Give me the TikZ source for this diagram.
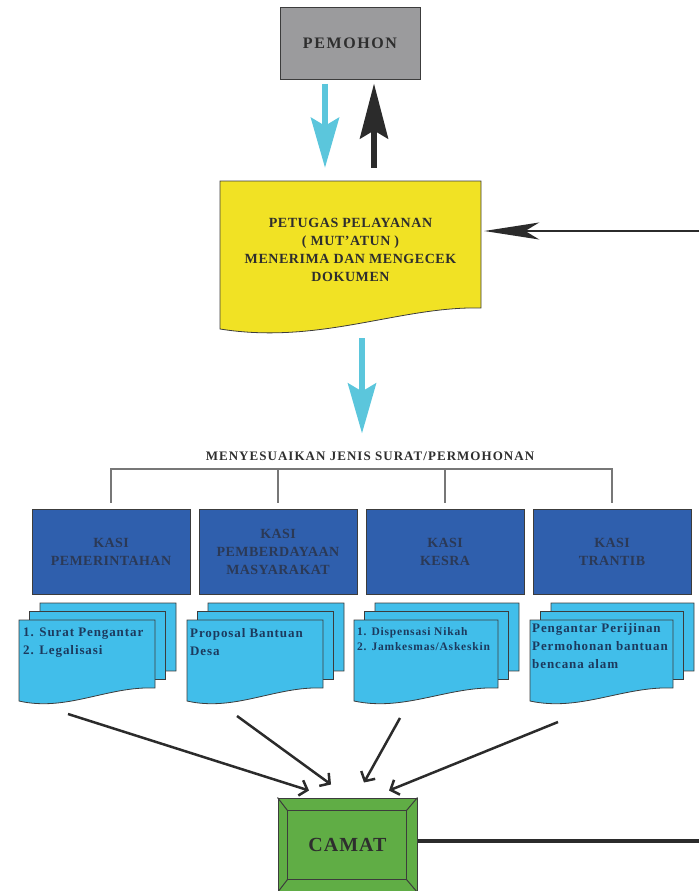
\documentclass[tikz,border=0pt]{standalone}
\usepackage{fontspec}
\setmainfont{Liberation Serif}
\usepackage{tikz}
\usetikzlibrary{positioning,arrows.meta}

\definecolor{abu}{HTML}{9B9B9D}
\definecolor{garis}{HTML}{3C3C3C}
\definecolor{teksgelap}{HTML}{2E2E2E}
\definecolor{kuning}{HTML}{F1E224}
\definecolor{cyanpanah}{HTML}{5BC6DC}
\definecolor{hitam}{HTML}{2B2B2B}
\definecolor{biru}{HTML}{2F5FAD}
\definecolor{teksbiru}{HTML}{2B3956}
\definecolor{birumuda}{HTML}{41BEEA}
\definecolor{teksisi}{HTML}{1C3A5E}
\definecolor{hijau}{HTML}{60AD45}
\definecolor{abugaris}{HTML}{777777}

\tikzstyle{kotak} = [rectangle, minimum width=140pt, minimum height=71pt, text centered, draw=garis, line width=1pt, fill=abu, text=teksgelap, font=\fontsize{16}{18}\selectfont\bfseries\addfontfeature{LetterSpace=10}]
\tikzstyle{kertas} = [draw=garis, line width=0.8pt]
\tikzstyle{judul} = [align=center, text=teksgelap, font=\fontsize{14}{18}\selectfont\bfseries\addfontfeature{LetterSpace=4}]
\tikzstyle{subjudul} = [inner sep=0pt, text=teksgelap, font=\fontsize{13}{16}\selectfont\bfseries\addfontfeature{LetterSpace=8}]
\tikzstyle{kasi} = [rectangle, minimum width=158pt, minimum height=85pt, align=center, draw=garis, line width=0.8pt, fill=biru, text=teksbiru, font=\fontsize{14}{18}\selectfont\bfseries\addfontfeature{LetterSpace=3}]
\tikzstyle{lembar} = [draw=garis, line width=0.8pt, fill=birumuda]
\tikzstyle{isi} = [inner sep=0pt, align=left, text=teksisi, font=\fontsize{13}{18}\selectfont\bfseries\addfontfeature{LetterSpace=7}]
\tikzstyle{kecil} = [font=\fontsize{11.5}{15}\selectfont\bfseries\addfontfeature{LetterSpace=7}]
\tikzstyle{kotakcamat} = [rectangle, minimum width=139pt, minimum height=94pt, draw=garis, line width=1pt, fill=hijau, text=teksgelap, font=\fontsize{20}{22}\selectfont\bfseries\addfontfeature{LetterSpace=5}]
\tikzstyle{bevel} = [draw=garis, line width=1pt]
\tikzstyle{panahbiru} = [line width=6pt, draw=cyanpanah, -{Stealth[length=50pt,width=28pt,inset=8pt]}]
\tikzstyle{panahhitam} = [line width=6pt, draw=hitam, -{Stealth[length=55pt,width=28pt,inset=8pt]}]
\tikzstyle{panahmasuk} = [line width=2.5pt, draw=hitam, -{Stealth[length=55pt,width=17pt,inset=14pt]}]
\tikzstyle{kurung} = [draw=abugaris, line width=1.5pt]
\tikzstyle{panahcamat} = [line width=2.5pt, draw=hitam, -{Straight Barb[length=7pt,width=16pt]}]
\tikzstyle{garistebal} = [line width=4.5pt, draw=hitam]

\newcommand{\lembar}[3]{\path[lembar, shift={(#1,#2)}] (0,0) -- (#3,0) -- (#3,68) .. controls ({0.65*#3},66) and ({0.35*#3},92) .. (0,81) -- cycle;}
\newcommand{\tumpukan}[3]{\lembar{#1+21}{#2-17}{#3}\lembar{#1+10.5}{#2-8.5}{#3}\lembar{#1}{#2}{#3}}

\begin{document}
\begin{tikzpicture}[x=1pt, y=-1pt, node distance=167pt]
			\useasboundingbox (0,0) rectangle (699,891);
			
			\node (pemohon) [kotak] at (350,43.5) {PEMOHON};
			
			\node (petugas) [minimum width=261pt, minimum height=127pt] at (350.5,244.5) {};
			\path[kertas, fill=kuning] (220,181) -- (481,181) -- (481,308) .. controls (400,306) and (320,345) .. (220,329) -- cycle;
			\node (petugasteks) [judul] at (350.5,250) {PETUGAS PELAYANAN\\( MUT’ATUN )\\MENERIMA DAN MENGECEK\\DOKUMEN};
			
			\node (jenis) [subjudul] at (370,456) {MENYESUAIKAN JENIS SURAT/PERMOHONAN};
			\coordinate (palang) at (370,469);
			
			\node (pemerintahan) [kasi] at (111,551.5) {KASI\\PEMERINTAHAN};
			\node (pemberdayaan) [kasi, right of=pemerintahan] {KASI\\PEMBERDAYAAN\\MASYARAKAT};
			\node (kesra) [kasi, right of=pemberdayaan] {KASI\\KESRA};
			\node (trantib) [kasi, right of=kesra] {KASI\\TRANTIB};
			
			\tumpukan{19}{620}{136}
			\node (surat) [isi, anchor=north west] at (23,628) {1. Surat Pengantar\\2. Legalisasi};
			\tumpukan{187}{620}{136}
			\node (proposal) [isi, anchor=north west] at (190,628) {Proposal Bantuan\\Desa};
			\tumpukan{354}{620}{144}
			\node (dispensasi) [isi, kecil, anchor=north west] at (357,627) {1. Dispensasi Nikah\\2. Jamkesmas/Askeskin};
			\tumpukan{530}{620}{143}
			\node (perijinan) [isi, anchor=north west] at (532,623) {Pengantar Perijinan\\Permohonan bantuan\\bencana alam};
			
			\node (camat) [kotakcamat] at (347.5,845) {CAMAT};
			\draw[bevel] ([shift={(10pt,-13pt)}]camat.north west) rectangle ([shift={(-11pt,13pt)}]camat.south east);
			\draw[bevel] (camat.north west) -- ([shift={(10pt,-13pt)}]camat.north west);
			\draw[bevel] (camat.north east) -- ([shift={(-11pt,-13pt)}]camat.north east);
			\draw[bevel] (camat.south west) -- ([shift={(10pt,13pt)}]camat.south west);
			\draw[bevel] (camat.south east) -- ([shift={(-11pt,13pt)}]camat.south east);
			
			\coordinate (masuk) at (699,231);
			\coordinate (tepi) at (699,841);
			\coordinate (suratout) at (68,714);
			\coordinate (proposalout) at (237,716);
			\coordinate (dispensasiout) at (400,718);
			\coordinate (perijinanout) at (558,722);
			
			\draw[panahbiru, shorten <=4pt, shorten >=13pt] ([xshift=-25pt]pemohon.south) -- ([xshift=-25pt]pemohon.south |- petugas.north);
			\draw[panahhitam, shorten <=13pt, shorten >=4pt] ([xshift=24pt]pemohon.south |- petugas.north) -- ([xshift=24pt]pemohon.south);
			\draw[panahmasuk, shorten >=3pt] (masuk) -- (petugas.east |- masuk);
			\draw[panahbiru, shorten <=30pt, shorten >=18pt] ([xshift=11.5pt]petugas.south) -- ([xshift=11.5pt]petugas.south |- jenis.north);
			
			\draw[kurung] ([yshift=6pt]pemerintahan.north) -- (pemerintahan |- palang) -- (trantib |- palang) -- ([yshift=6pt]trantib.north);
			\draw[kurung] ([yshift=6pt]pemberdayaan.north) -- (pemberdayaan |- palang);
			\draw[kurung] ([yshift=6pt]kesra.north) -- (kesra |- palang);
			
			\draw[panahcamat] (suratout) -- ([xshift=-38.5pt,yshift=7pt]camat.north);
			\draw[panahcamat] (proposalout) -- ([xshift=-16.5pt,yshift=13pt]camat.north);
			\draw[panahcamat] (dispensasiout) -- ([xshift=16.5pt,yshift=15pt]camat.north);
			\draw[panahcamat] (perijinanout) -- ([xshift=41.5pt,yshift=7pt]camat.north);
			
			\draw[garistebal] (camat.east |- tepi) -- (tepi);
			
			\end{tikzpicture}
\end{document}
